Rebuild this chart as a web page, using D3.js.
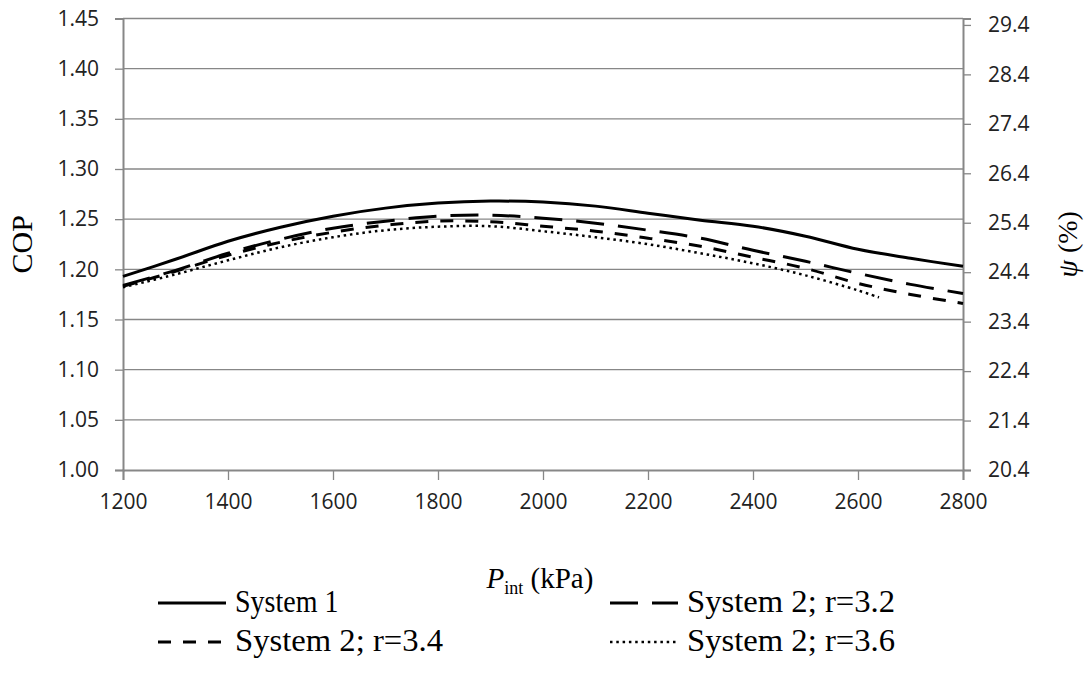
<!DOCTYPE html>
<html>
<head>
<meta charset="utf-8">
<script src="https://cdn.jsdelivr.net/npm/d3@7"></script>
<style>
  body { margin: 0; background: #fff; }
  svg { display: block; }
</style>
</head>
<body>
<div id="container"></div>
<script>
const margin = { top: 18.5, right: 124, bottom: 203, left: 123 },
      width = 1087 - margin.left - margin.right,
      height = 673 - margin.top - margin.bottom;

// pressure (kPa)
const pressure = [1200, 1300, 1400, 1500, 1600, 1700, 1800, 1900, 2000,
                  2100, 2200, 2300, 2400, 2500, 2600, 2700, 2800];
const pressureR36 = [1200, 1300, 1400, 1500, 1600, 1700, 1800, 1900, 2000,
                     2100, 2200, 2300, 2400, 2500, 2600, 2640];

// COP series
const copSystem1 = [1.193, 1.210, 1.228, 1.242, 1.253, 1.261, 1.266, 1.268, 1.267,
                    1.263, 1.256, 1.249, 1.243, 1.233, 1.220, 1.211, 1.203];
const copR32 = [1.184, 1.199, 1.216, 1.230, 1.241, 1.248, 1.253, 1.254, 1.251,
                1.246, 1.239, 1.231, 1.219, 1.208, 1.196, 1.185, 1.176];
const copR34 = [1.183, 1.198, 1.214, 1.227, 1.237, 1.244, 1.248, 1.2475, 1.243,
                1.238, 1.231, 1.223, 1.212, 1.201, 1.186, 1.175, 1.166];
const copR36 = [1.182, 1.195, 1.209, 1.222, 1.232, 1.239, 1.2425, 1.243, 1.238,
                1.232, 1.225, 1.216, 1.206, 1.194, 1.179, 1.172];

const seriesNames = ["System 1", "System 2; r=3.2", "System 2; r=3.4", "System 2; r=3.6"];

const xTicks = [1200, 1400, 1600, 1800, 2000, 2200, 2400, 2600, 2800];
const yTicks = [1.00, 1.05, 1.10, 1.15, 1.20, 1.25, 1.30, 1.35, 1.40, 1.45];
const y2Ticks = [20.4, 21.4, 22.4, 23.4, 24.4, 25.4, 26.4, 27.4, 28.4, 29.4];

const series = [
  { name: seriesNames[0], x: pressure, y: copSystem1 },
  { name: seriesNames[1], x: pressure, y: copR32 },
  { name: seriesNames[2], x: pressure, y: copR34 },
  { name: seriesNames[3], x: pressureR36, y: copR36 }
];

// line styles per series
const dashes = [null, "28,14", "13,12", "2.5,3.8"];
const widths = [3, 3, 3, 2.5];

const gray = "#878787";
const tickFont = "'Open Sans', sans-serif";
const serif = "'Liberation Serif', 'Times New Roman', serif";

const xScale = d3.scaleLinear().domain([1200, 2800]).range([0, width]);
const yScale = d3.scaleLinear().domain([1.00, 1.45]).range([height, 0]);
const y2Scale = d3.scaleLinear().domain([20.4, 29.53]).range([height, 0]);

const svg = d3.select("#container")
  .append("svg")
  .attr("width", 1087)
  .attr("height", 673)
  .append("g")
  .attr("transform", `translate(${margin.left},${margin.top})`);

// gridlines
svg.append("g")
  .selectAll("line")
  .data(yTicks.slice(1))
  .enter()
  .append("line")
  .attr("x1", 0)
  .attr("x2", width)
  .attr("y1", d => yScale(d))
  .attr("y2", d => yScale(d))
  .attr("stroke", gray)
  .attr("stroke-width", 1.3);

// axes
const styleAxis = g => {
  g.select(".domain").attr("stroke", gray).attr("stroke-width", 2);
  g.selectAll(".tick line").attr("stroke", gray).attr("stroke-width", 1.3);
  g.selectAll(".tick text")
    .attr("fill", "#222")
    .style("font-family", tickFont)
    .style("font-size", "21px");
};

svg.append("g")
  .call(d3.axisLeft(yScale).tickValues(yTicks).tickFormat(d3.format(".2f"))
    .tickSizeOuter(0).tickSize(8).tickPadding(16))
  .call(styleAxis);

svg.append("g")
  .attr("transform", `translate(${width},0)`)
  .call(d3.axisRight(y2Scale).tickValues(y2Ticks).tickFormat(d3.format(".1f"))
    .tickSizeOuter(0).tickSize(8).tickPadding(17))
  .call(styleAxis);

svg.append("g")
  .attr("transform", `translate(0,${height})`)
  .call(d3.axisBottom(xScale).tickValues(xTicks).tickFormat(d3.format("d"))
    .tickSizeOuter(0).tickSize(10).tickPadding(14))
  .call(styleAxis);

// lines
const line = d3.line()
  .x(d => xScale(d[0]))
  .y(d => yScale(d[1]))
  .curve(d3.curveCatmullRom);

series.forEach((s, i) => {
  svg.append("path")
    .datum(s.x.map((p, j) => [p, s.y[j]]))
    .attr("fill", "none")
    .attr("stroke", "#000")
    .attr("stroke-width", widths[i])
    .attr("stroke-dasharray", dashes[i])
    .attr("d", line);
});

// axis titles
svg.append("text")
  .attr("transform", `translate(${-91},${yScale(1.225)}) rotate(-90)`)
  .attr("text-anchor", "middle")
  .style("font-family", serif)
  .style("font-size", "30px")
  .text("COP");

const psi = svg.append("text")
  .attr("transform", `translate(${width + 114},${yScale(1.225)}) rotate(-90)`)
  .attr("text-anchor", "middle")
  .style("font-family", serif)
  .style("font-size", "28px");
psi.append("tspan").style("font-style", "italic").text("ψ");
psi.append("tspan").text(" (%)");

const xt = svg.append("text")
  .attr("x", width / 2 - 3)
  .attr("y", height + 118)
  .attr("text-anchor", "middle")
  .style("font-family", serif)
  .style("font-size", "29px");
xt.append("tspan").style("font-style", "italic").text("P");
xt.append("tspan").attr("dy", 6).style("font-size", "18px").text("int");
xt.append("tspan").attr("dy", -6).text(" (kPa)");

// legend
const legendPos = [[35, 133], [487, 133], [35, 172], [487, 172]];
const legendTextLen = [null, 208, 208, 208];
series.forEach((s, i) => {
  const [lx, ly] = legendPos[i];
  const g = svg.append("g").attr("transform", `translate(${lx},${height + ly})`);
  g.append("line")
    .attr("x1", 0).attr("x2", 68)
    .attr("y1", 0).attr("y2", 0)
    .attr("stroke", "#000")
    .attr("stroke-width", widths[i])
    .attr("stroke-dasharray", dashes[i]);
  const t = g.append("text")
    .attr("transform", "translate(77,9) scale(1,1.15)")
    .style("font-family", serif)
    .style("font-size", "28px")
    .text(s.name);
  if (legendTextLen[i]) {
    t.attr("textLength", legendTextLen[i]).attr("lengthAdjust", "spacingAndGlyphs");
  }
});
</script>
</body>
</html>
